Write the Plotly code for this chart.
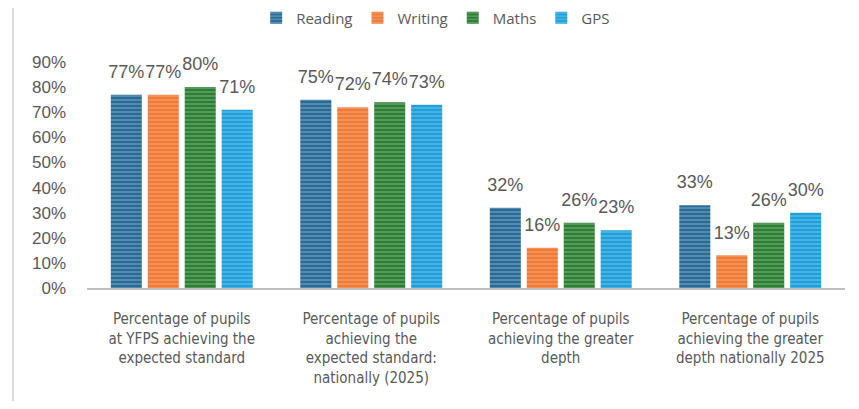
import plotly.graph_objects as go

categories = [
    "Percentage of pupils<br>at YFPS achieving the<br>expected standard",
    "Percentage of pupils<br>achieving the<br>expected standard:<br>nationally (2025)",
    "Percentage of pupils<br>achieving the greater<br>depth",
    "Percentage of pupils<br>achieving the greater<br>depth nationally 2025",
]
series_names = ["Reading", "Writing", "Maths", "GPS"]
reading = [0.77, 0.75, 0.32, 0.33]
writing = [0.77, 0.72, 0.16, 0.13]
maths = [0.80, 0.74, 0.26, 0.26]
gps = [0.71, 0.73, 0.23, 0.30]
y_ticks = [0, 0.1, 0.2, 0.3, 0.4, 0.5, 0.6, 0.7, 0.8, 0.9]

values = [reading, writing, maths, gps]
dark = ["#2B6A94", "#EE7A35", "#2F7D34", "#1FA0DA"]
light = ["#9CC8E0", "#F9BE98", "#93CF96", "#93D6F2"]

fig = go.Figure()
for name, vals, d, l in zip(series_names, values, dark, light):
    fig.add_trace(go.Bar(
        name=name, x=categories, y=vals, offsetgroup=name,
        marker=dict(color=d, line=dict(width=0),
                    pattern=dict(shape="-", fgcolor=l, bgcolor=d, size=4, solidity=0.35)),
    ))
for name, vals in zip(series_names, values):
    fig.add_trace(go.Scatter(
        name=name, x=categories, y=vals, offsetgroup=name, showlegend=False,
        mode="markers+text", marker=dict(size=18, opacity=0),
        text=[f"{round(v*100)}%" for v in vals], textposition="top center",
        cliponaxis=False, hoverinfo="skip",
        textfont=dict(family="Liberation Sans, Arial, sans-serif", size=18, color="#595959"),
    ))

# page body adds an 8px offset; figure is sized to fit the window
L, R, T, B = 79, 6, 54, 113
W, H = 843, 393
pw, ph = W - L - R, H - T - B

fig.update_layout(
    width=W, height=H,
    margin=dict(l=L, r=R, t=T, b=B, pad=0, autoexpand=False),
    paper_bgcolor="white", plot_bgcolor="white",
    barmode="group", bargap=0.22, bargroupgap=0.16,
    scattermode="group", scattergap=0.22,
    showlegend=True,
    legend=dict(orientation="h", x=0.46, xanchor="center", y=1 + (T - 10)/ph, yanchor="middle",
                font=dict(family="Open Sans, sans-serif", size=15, color="#595959"),
                itemwidth=30, tracegroupgap=0, traceorder="normal"),
    xaxis=dict(showline=True, linecolor="#BFBFBF", linewidth=2, ticks="",
               ticklabelstandoff=16,
               tickfont=dict(family="Liberation Sans Narrow, DejaVu Sans Condensed, sans-serif",
                             size=15, color="#595959"),
               showgrid=False),
    yaxis=dict(range=[0, 0.9], tickvals=y_ticks, tickformat=".0%",
               showgrid=False, zeroline=False, showline=False, ticks="",
               ticklabelstandoff=20,
               tickfont=dict(family="Liberation Sans, Arial, sans-serif", size=17, color="#595959")),
    shapes=[dict(type="line", xref="paper", yref="paper",
                 x0=(5 - L)/pw, x1=(5 - L)/pw, y0=-B/ph, y1=1 + T/ph,
                 line=dict(color="#D9D9D9", width=2))],
)

fig.write_html("out.html")
